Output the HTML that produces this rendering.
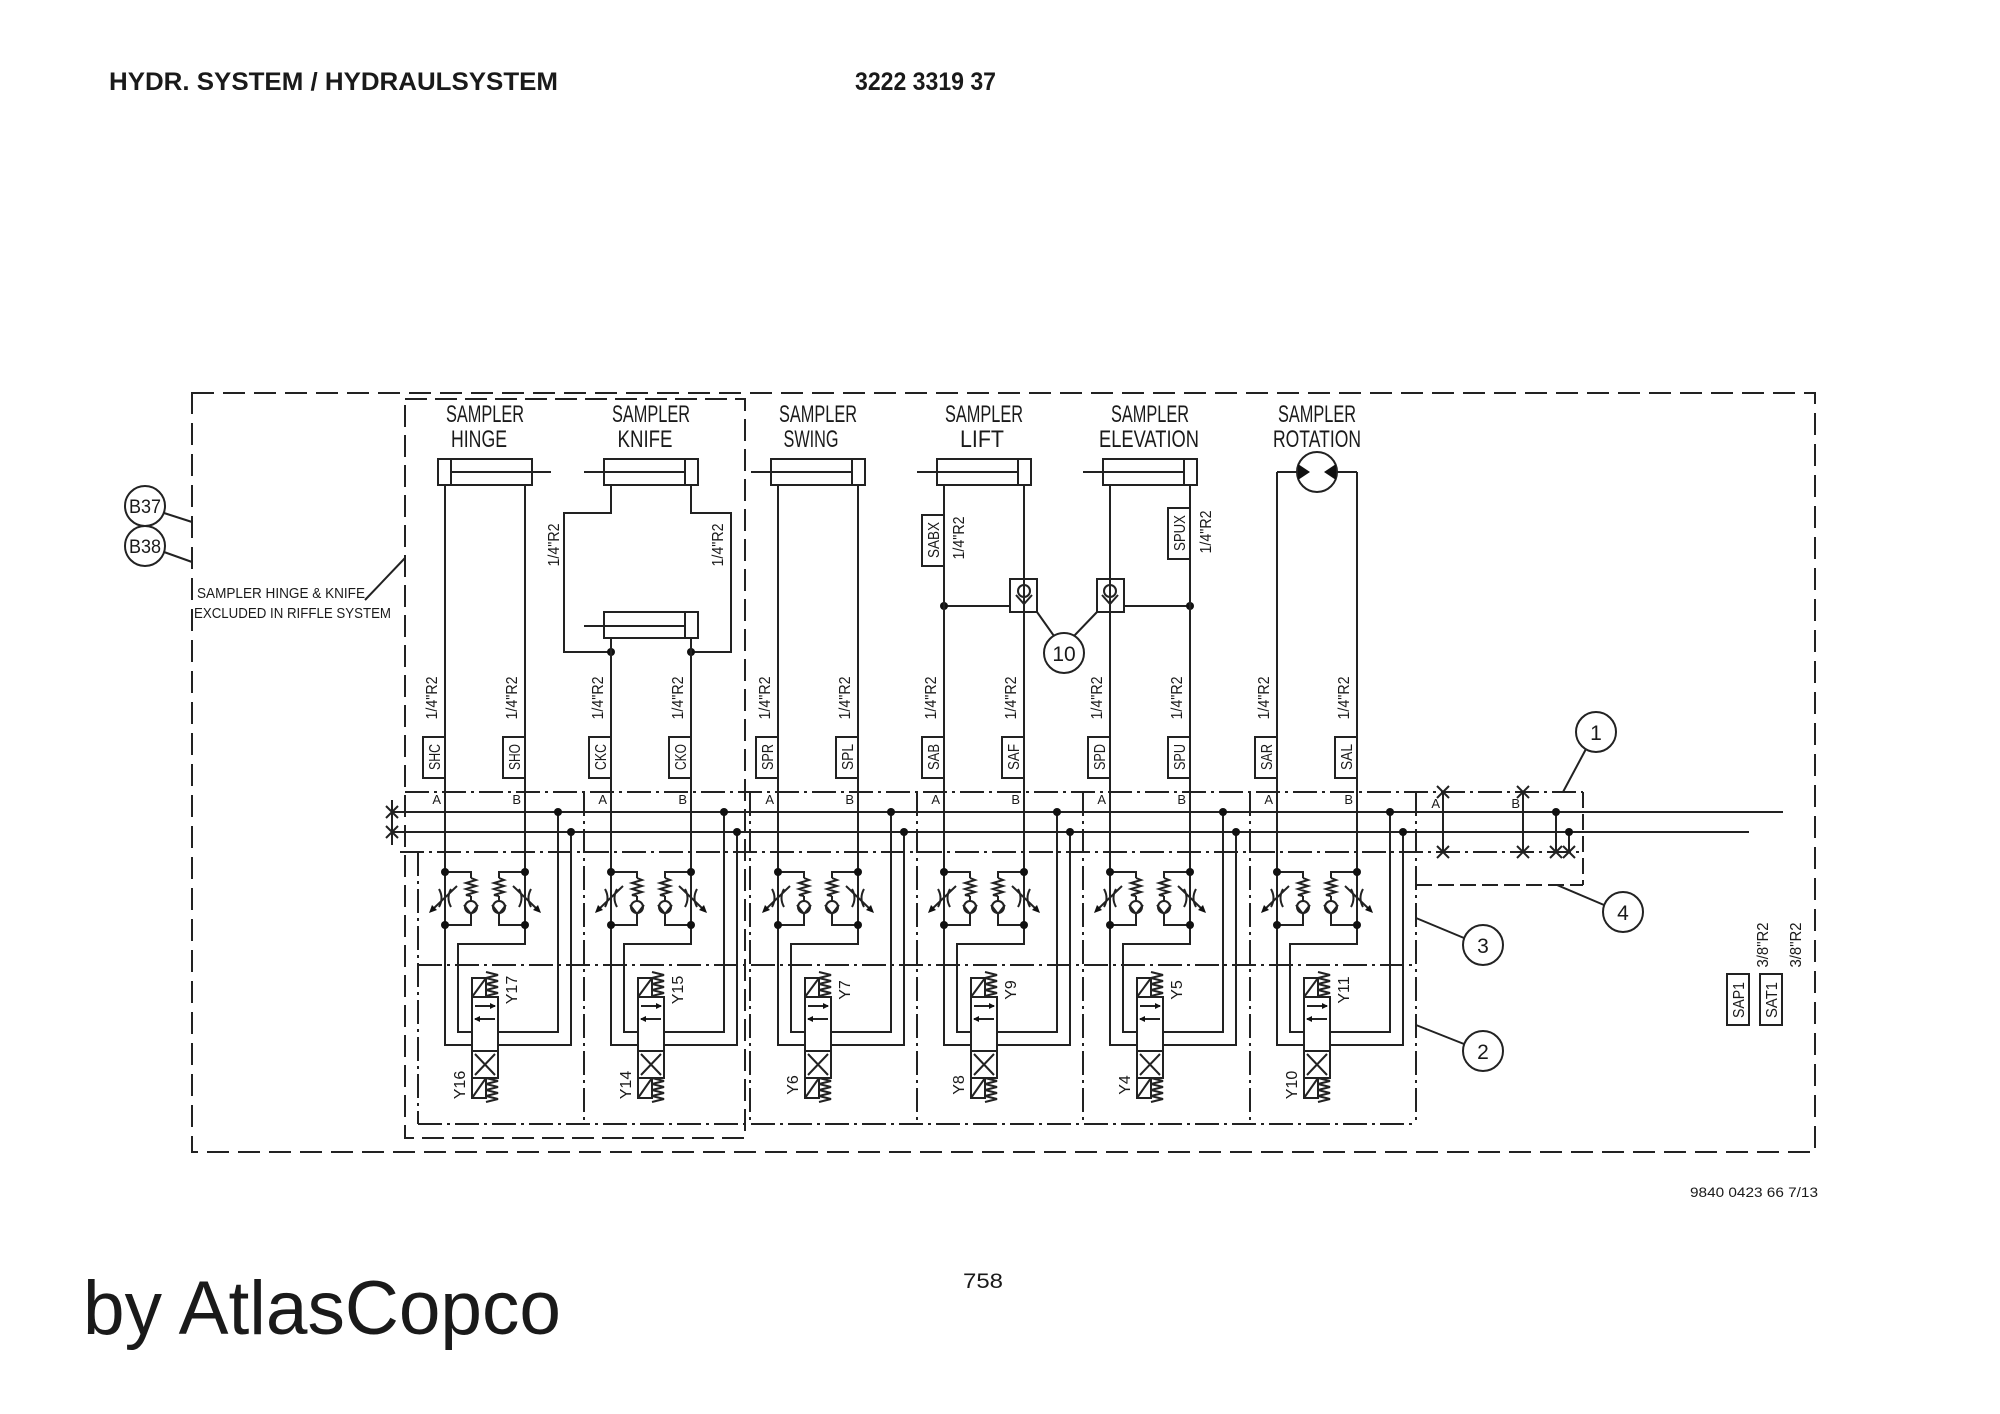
<!DOCTYPE html>
<html><head><meta charset="utf-8"><style>
html,body{margin:0;padding:0;background:#fff;}
svg{display:block;}
text{font-family:"Liberation Sans",sans-serif;fill:#1a1a1a;}
.c{font-family:"Liberation Sans Narrow","Liberation Sans",sans-serif;}
</style></head><body>
<svg width="2000" height="1414" viewBox="0 0 2000 1414" xmlns="http://www.w3.org/2000/svg">
<rect width="2000" height="1414" fill="#fff"/>
<text x="109" y="90" font-size="25" font-weight="bold" textLength="449" lengthAdjust="spacingAndGlyphs">HYDR. SYSTEM / HYDRAULSYSTEM</text>
<text x="855" y="90" font-size="25" font-weight="bold" textLength="141" lengthAdjust="spacingAndGlyphs">3222 3319 37</text>
<text x="1690" y="1197" font-size="14" textLength="128" lengthAdjust="spacingAndGlyphs">9840 0423 66 7/13</text>
<text x="963" y="1288" font-size="21" textLength="40" lengthAdjust="spacingAndGlyphs">758</text>
<text x="83" y="1334" font-size="76" textLength="478" lengthAdjust="spacingAndGlyphs">by AtlasCopco</text>

<g fill="none" stroke="#222" stroke-width="2">
<rect x="192" y="393" width="1623" height="759" stroke-dasharray="22,9"/>
<rect x="405" y="399" width="340" height="739" stroke-dasharray="22,8"/>
<path stroke-dasharray="24,5,3,5" d="M418,852V1124 M584,792V1124 M750,792V1124 M917,792V1124 M1083,792V1124 M1250,792V1124 M1416,792V1125"/>
<path stroke-dasharray="24,5,3,5" d="M400,852H1583 M418,965H1416 M418,1124H1416 M405,792H1583"/>
<path d="M1583,792V885 M1416,885H1583" stroke-dasharray="16,6"/>
<path d="M392,812H1783 M392,832H1749 M392,800V845"/>
<path d="M386,806l12,12M398,806l-12,12 M386,826l12,12M398,826l-12,12"/>
<path d="M1443,792V852 M1523,792V852 M1556,812V852 M1569,832V852"/>
<path d="M1437,786l12,12M1449,786l-12,12 M1437,846l12,12M1449,846l-12,12 M1517,786l12,12M1529,786l-12,12 M1517,846l12,12M1529,846l-12,12 M1550,846l12,12M1562,846l-12,12 M1563,846l12,12M1575,846l-12,12"/>
<circle cx="1596" cy="732" r="20"/><path d="M1586,749L1563,792"/>
<circle cx="1623" cy="912" r="20"/><path d="M1604,905L1557,885"/>
<circle cx="1483" cy="945" r="20"/><path d="M1464,938L1416,918"/>
<circle cx="1483" cy="1051" r="20"/><path d="M1464,1044L1416,1025"/>
<circle cx="145" cy="506" r="20"/><path d="M164,513L192,522"/>
<circle cx="145" cy="546" r="20"/><path d="M164,552L192,562"/>
<path d="M365,600L405,558"/>
<rect x="1727" y="974" width="22" height="51"/>
<rect x="1760" y="974" width="22" height="51"/>

<rect x="438" y="459" width="94" height="26"/><path d="M451,459V485 M451,472H551"/>
<rect x="604" y="459" width="94" height="26"/><path d="M685,459V485 M584,472H685"/>
<path d="M611,485V513H564V652H611 M691,485V513H731V652H691"/>
<rect x="604" y="612" width="94" height="26"/><path d="M685,612V638 M584,626H685"/>
<rect x="771" y="459" width="94" height="26"/><path d="M852,459V485 M751,472H852"/>
<rect x="937" y="459" width="94" height="26"/><path d="M1018,459V485 M917,472H1018"/>
<rect x="1103" y="459" width="94" height="26"/><path d="M1184,459V485 M1083,472H1184"/>
<circle cx="1317" cy="472" r="20"/><path d="M1277,472H1297 M1337,472H1357"/>
<path d="M944,606H1010 M1124,606H1190"/>
<rect x="1010" y="579" width="27" height="33"/><rect x="1097" y="579" width="27" height="33"/>
<circle cx="1024" cy="591" r="6"/><path d="M1016,595L1024,604L1032,595"/>
<circle cx="1110" cy="591" r="6"/><path d="M1102,595L1110,604L1118,595"/>
<circle cx="1064" cy="653" r="20"/><path d="M1037,612L1054,636 M1097,612L1074,636"/>
<rect x="922" y="515" width="22" height="51"/>
<rect x="1168" y="508" width="22" height="51"/>
</g>
<g fill="#111">
<path d="M1298,464L1310,472L1298,480Z M1336,464L1324,472L1336,480Z"/>
<circle cx="611" cy="652" r="4"/><circle cx="691" cy="652" r="4"/>
<circle cx="944" cy="606" r="4"/><circle cx="1190" cy="606" r="4"/>
<circle cx="1556" cy="812" r="4"/><circle cx="1569" cy="832" r="4"/>
</g>

<g class="c" font-size="24" text-anchor="middle">
<text x="485" y="422" textLength="78" lengthAdjust="spacingAndGlyphs">SAMPLER</text>
<text x="479" y="447" textLength="56" lengthAdjust="spacingAndGlyphs">HINGE</text>
<text x="651" y="422" textLength="78" lengthAdjust="spacingAndGlyphs">SAMPLER</text>
<text x="645" y="447" textLength="55" lengthAdjust="spacingAndGlyphs">KNIFE</text>
<text x="818" y="422" textLength="78" lengthAdjust="spacingAndGlyphs">SAMPLER</text>
<text x="811" y="447" textLength="55" lengthAdjust="spacingAndGlyphs">SWING</text>
<text x="984" y="422" textLength="78" lengthAdjust="spacingAndGlyphs">SAMPLER</text>
<text x="982" y="447" textLength="44" lengthAdjust="spacingAndGlyphs">LIFT</text>
<text x="1150" y="422" textLength="78" lengthAdjust="spacingAndGlyphs">SAMPLER</text>
<text x="1149" y="447" textLength="100" lengthAdjust="spacingAndGlyphs">ELEVATION</text>
<text x="1317" y="422" textLength="78" lengthAdjust="spacingAndGlyphs">SAMPLER</text>
<text x="1317" y="447" textLength="88" lengthAdjust="spacingAndGlyphs">ROTATION</text>
</g>
<g class="c" font-size="15">
<text x="197" y="598" textLength="168" lengthAdjust="spacingAndGlyphs">SAMPLER HINGE &amp; KNIFE</text>
<text x="194" y="618" textLength="197" lengthAdjust="spacingAndGlyphs">EXCLUDED IN RIFFLE SYSTEM</text>
<text x="145" y="513" font-size="19" text-anchor="middle" textLength="32" lengthAdjust="spacingAndGlyphs">B37</text>
<text x="145" y="553" font-size="19" text-anchor="middle" textLength="32" lengthAdjust="spacingAndGlyphs">B38</text>
<text x="1596" y="740" font-size="21" text-anchor="middle">1</text>
<text x="1623" y="920" font-size="21" text-anchor="middle">4</text>
<text x="1483" y="953" font-size="21" text-anchor="middle">3</text>
<text x="1483" y="1059" font-size="21" text-anchor="middle">2</text>
<text x="1064" y="661" font-size="21" text-anchor="middle">10</text>
<text x="1440" y="808" font-size="13" text-anchor="end">A</text>
<text x="1520" y="808" font-size="13" text-anchor="end">B</text>
</g>
<g class="c" font-size="16" text-anchor="middle">
<text transform="translate(559,545) rotate(-90)" textLength="43" lengthAdjust="spacingAndGlyphs">1/4"R2</text>
<text transform="translate(723,545) rotate(-90)" textLength="43" lengthAdjust="spacingAndGlyphs">1/4"R2</text>
<text transform="translate(964,538) rotate(-90)" textLength="43" lengthAdjust="spacingAndGlyphs">1/4"R2</text>
<text transform="translate(1211,532) rotate(-90)" textLength="43" lengthAdjust="spacingAndGlyphs">1/4"R2</text>
<text transform="translate(939,540) rotate(-90)" textLength="36" lengthAdjust="spacingAndGlyphs">SABX</text>
<text transform="translate(1185,533) rotate(-90)" textLength="36" lengthAdjust="spacingAndGlyphs">SPUX</text>
<text transform="translate(1744,1000) rotate(-90)" textLength="36" lengthAdjust="spacingAndGlyphs">SAP1</text>
<text transform="translate(1777,1000) rotate(-90)" textLength="36" lengthAdjust="spacingAndGlyphs">SAT1</text>
<text transform="translate(1768,945) rotate(-90)" textLength="45" lengthAdjust="spacingAndGlyphs">3/8"R2</text>
<text transform="translate(1801,945) rotate(-90)" textLength="45" lengthAdjust="spacingAndGlyphs">3/8"R2</text>
</g>

<g transform="translate(445,0)">
<g fill="none" stroke="#222" stroke-width="2">
<path d="M0,485V1045H27 M80,485V944H13V1032H27 M53,1032H113V812 M53,1045H126V832"/>
<path d="M0,872H26V878 M26,896V901 M26,913V925H0 M80,872H54V878 M54,896V901 M54,913V925H80"/>
<path d="M26,878l5,2-10,3 10,3-10,3 10,3-10,3 5,1 M54,878l5,2-10,3 10,3-10,3 10,3-10,3 5,1"/>
<circle cx="26" cy="907" r="6"/><circle cx="54" cy="907" r="6"/>
<path d="M19,905L26,914L33,905 M47,905L54,914L61,905"/>
<path d="M-6,889q5,9 0,18 M6,889q-5,9 0,18 M74,889q5,9 0,18 M86,889q-5,9 0,18 M-13,910L12,886 M93,910L68,886"/>
<rect x="27" y="978" width="14" height="19"/><path d="M27,997L41,978"/>
<path d="M41,972l12,3-12,3 12,3-12,3 12,3-12,3 12,3-12,3"/>
<rect x="27" y="997" width="26" height="54"/><rect x="27" y="1051" width="26" height="27"/>
<rect x="27" y="1078" width="14" height="20"/><path d="M27,1098L41,1078"/>
<path d="M41,1078l12,3-12,3 12,3-12,3 12,3-12,3 12,3-12,3"/>
<path d="M30,1006H50 M50,1019H30 M30,1054L50,1075 M50,1054L30,1075"/>
<rect x="-22" y="737" width="22" height="41"/><rect x="58" y="737" width="22" height="41"/>
</g>
<g fill="#111"><circle cx="0" cy="872" r="4"/><circle cx="0" cy="925" r="4"/><circle cx="80" cy="872" r="4"/><circle cx="80" cy="925" r="4"/><circle cx="113" cy="812" r="4"/><circle cx="126" cy="832" r="4"/>
<path d="M-16,913l3,-8 5,5z M96,913l-3,-8 -5,5z M51,1006l-6,-3v6z M29,1019l6,-3v6z"/></g>
<g class="c" font-size="16" text-anchor="middle">
<text transform="translate(-8,698) rotate(-90)" textLength="43" lengthAdjust="spacingAndGlyphs">1/4"R2</text>
<text transform="translate(72,698) rotate(-90)" textLength="43" lengthAdjust="spacingAndGlyphs">1/4"R2</text>
<text transform="translate(-5,757) rotate(-90)" textLength="26" lengthAdjust="spacingAndGlyphs">SHC</text>
<text transform="translate(75,757) rotate(-90)" textLength="26" lengthAdjust="spacingAndGlyphs">SHO</text>
<text transform="translate(72,990) rotate(-90)">Y17</text>
<text transform="translate(20,1085) rotate(-90)">Y16</text>
<text x="-4" y="804" font-size="13" text-anchor="end">A</text><text x="76" y="804" font-size="13" text-anchor="end">B</text>
</g></g>

<g transform="translate(611,0)">
<g fill="none" stroke="#222" stroke-width="2">
<path d="M0,638V1045H27 M80,638V944H13V1032H27 M53,1032H113V812 M53,1045H126V832"/>
<path d="M0,872H26V878 M26,896V901 M26,913V925H0 M80,872H54V878 M54,896V901 M54,913V925H80"/>
<path d="M26,878l5,2-10,3 10,3-10,3 10,3-10,3 5,1 M54,878l5,2-10,3 10,3-10,3 10,3-10,3 5,1"/>
<circle cx="26" cy="907" r="6"/><circle cx="54" cy="907" r="6"/>
<path d="M19,905L26,914L33,905 M47,905L54,914L61,905"/>
<path d="M-6,889q5,9 0,18 M6,889q-5,9 0,18 M74,889q5,9 0,18 M86,889q-5,9 0,18 M-13,910L12,886 M93,910L68,886"/>
<rect x="27" y="978" width="14" height="19"/><path d="M27,997L41,978"/>
<path d="M41,972l12,3-12,3 12,3-12,3 12,3-12,3 12,3-12,3"/>
<rect x="27" y="997" width="26" height="54"/><rect x="27" y="1051" width="26" height="27"/>
<rect x="27" y="1078" width="14" height="20"/><path d="M27,1098L41,1078"/>
<path d="M41,1078l12,3-12,3 12,3-12,3 12,3-12,3 12,3-12,3"/>
<path d="M30,1006H50 M50,1019H30 M30,1054L50,1075 M50,1054L30,1075"/>
<rect x="-22" y="737" width="22" height="41"/><rect x="58" y="737" width="22" height="41"/>
</g>
<g fill="#111"><circle cx="0" cy="872" r="4"/><circle cx="0" cy="925" r="4"/><circle cx="80" cy="872" r="4"/><circle cx="80" cy="925" r="4"/><circle cx="113" cy="812" r="4"/><circle cx="126" cy="832" r="4"/>
<path d="M-16,913l3,-8 5,5z M96,913l-3,-8 -5,5z M51,1006l-6,-3v6z M29,1019l6,-3v6z"/></g>
<g class="c" font-size="16" text-anchor="middle">
<text transform="translate(-8,698) rotate(-90)" textLength="43" lengthAdjust="spacingAndGlyphs">1/4"R2</text>
<text transform="translate(72,698) rotate(-90)" textLength="43" lengthAdjust="spacingAndGlyphs">1/4"R2</text>
<text transform="translate(-5,757) rotate(-90)" textLength="26" lengthAdjust="spacingAndGlyphs">CKC</text>
<text transform="translate(75,757) rotate(-90)" textLength="26" lengthAdjust="spacingAndGlyphs">CKO</text>
<text transform="translate(72,990) rotate(-90)">Y15</text>
<text transform="translate(20,1085) rotate(-90)">Y14</text>
<text x="-4" y="804" font-size="13" text-anchor="end">A</text><text x="76" y="804" font-size="13" text-anchor="end">B</text>
</g></g>

<g transform="translate(778,0)">
<g fill="none" stroke="#222" stroke-width="2">
<path d="M0,485V1045H27 M80,485V944H13V1032H27 M53,1032H113V812 M53,1045H126V832"/>
<path d="M0,872H26V878 M26,896V901 M26,913V925H0 M80,872H54V878 M54,896V901 M54,913V925H80"/>
<path d="M26,878l5,2-10,3 10,3-10,3 10,3-10,3 5,1 M54,878l5,2-10,3 10,3-10,3 10,3-10,3 5,1"/>
<circle cx="26" cy="907" r="6"/><circle cx="54" cy="907" r="6"/>
<path d="M19,905L26,914L33,905 M47,905L54,914L61,905"/>
<path d="M-6,889q5,9 0,18 M6,889q-5,9 0,18 M74,889q5,9 0,18 M86,889q-5,9 0,18 M-13,910L12,886 M93,910L68,886"/>
<rect x="27" y="978" width="14" height="19"/><path d="M27,997L41,978"/>
<path d="M41,972l12,3-12,3 12,3-12,3 12,3-12,3 12,3-12,3"/>
<rect x="27" y="997" width="26" height="54"/><rect x="27" y="1051" width="26" height="27"/>
<rect x="27" y="1078" width="14" height="20"/><path d="M27,1098L41,1078"/>
<path d="M41,1078l12,3-12,3 12,3-12,3 12,3-12,3 12,3-12,3"/>
<path d="M30,1006H50 M50,1019H30 M30,1054L50,1075 M50,1054L30,1075"/>
<rect x="-22" y="737" width="22" height="41"/><rect x="58" y="737" width="22" height="41"/>
</g>
<g fill="#111"><circle cx="0" cy="872" r="4"/><circle cx="0" cy="925" r="4"/><circle cx="80" cy="872" r="4"/><circle cx="80" cy="925" r="4"/><circle cx="113" cy="812" r="4"/><circle cx="126" cy="832" r="4"/>
<path d="M-16,913l3,-8 5,5z M96,913l-3,-8 -5,5z M51,1006l-6,-3v6z M29,1019l6,-3v6z"/></g>
<g class="c" font-size="16" text-anchor="middle">
<text transform="translate(-8,698) rotate(-90)" textLength="43" lengthAdjust="spacingAndGlyphs">1/4"R2</text>
<text transform="translate(72,698) rotate(-90)" textLength="43" lengthAdjust="spacingAndGlyphs">1/4"R2</text>
<text transform="translate(-5,757) rotate(-90)" textLength="26" lengthAdjust="spacingAndGlyphs">SPR</text>
<text transform="translate(75,757) rotate(-90)" textLength="26" lengthAdjust="spacingAndGlyphs">SPL</text>
<text transform="translate(72,990) rotate(-90)">Y7</text>
<text transform="translate(20,1085) rotate(-90)">Y6</text>
<text x="-4" y="804" font-size="13" text-anchor="end">A</text><text x="76" y="804" font-size="13" text-anchor="end">B</text>
</g></g>

<g transform="translate(944,0)">
<g fill="none" stroke="#222" stroke-width="2">
<path d="M0,485V1045H27 M80,485V944H13V1032H27 M53,1032H113V812 M53,1045H126V832"/>
<path d="M0,872H26V878 M26,896V901 M26,913V925H0 M80,872H54V878 M54,896V901 M54,913V925H80"/>
<path d="M26,878l5,2-10,3 10,3-10,3 10,3-10,3 5,1 M54,878l5,2-10,3 10,3-10,3 10,3-10,3 5,1"/>
<circle cx="26" cy="907" r="6"/><circle cx="54" cy="907" r="6"/>
<path d="M19,905L26,914L33,905 M47,905L54,914L61,905"/>
<path d="M-6,889q5,9 0,18 M6,889q-5,9 0,18 M74,889q5,9 0,18 M86,889q-5,9 0,18 M-13,910L12,886 M93,910L68,886"/>
<rect x="27" y="978" width="14" height="19"/><path d="M27,997L41,978"/>
<path d="M41,972l12,3-12,3 12,3-12,3 12,3-12,3 12,3-12,3"/>
<rect x="27" y="997" width="26" height="54"/><rect x="27" y="1051" width="26" height="27"/>
<rect x="27" y="1078" width="14" height="20"/><path d="M27,1098L41,1078"/>
<path d="M41,1078l12,3-12,3 12,3-12,3 12,3-12,3 12,3-12,3"/>
<path d="M30,1006H50 M50,1019H30 M30,1054L50,1075 M50,1054L30,1075"/>
<rect x="-22" y="737" width="22" height="41"/><rect x="58" y="737" width="22" height="41"/>
</g>
<g fill="#111"><circle cx="0" cy="872" r="4"/><circle cx="0" cy="925" r="4"/><circle cx="80" cy="872" r="4"/><circle cx="80" cy="925" r="4"/><circle cx="113" cy="812" r="4"/><circle cx="126" cy="832" r="4"/>
<path d="M-16,913l3,-8 5,5z M96,913l-3,-8 -5,5z M51,1006l-6,-3v6z M29,1019l6,-3v6z"/></g>
<g class="c" font-size="16" text-anchor="middle">
<text transform="translate(-8,698) rotate(-90)" textLength="43" lengthAdjust="spacingAndGlyphs">1/4"R2</text>
<text transform="translate(72,698) rotate(-90)" textLength="43" lengthAdjust="spacingAndGlyphs">1/4"R2</text>
<text transform="translate(-5,757) rotate(-90)" textLength="26" lengthAdjust="spacingAndGlyphs">SAB</text>
<text transform="translate(75,757) rotate(-90)" textLength="26" lengthAdjust="spacingAndGlyphs">SAF</text>
<text transform="translate(72,990) rotate(-90)">Y9</text>
<text transform="translate(20,1085) rotate(-90)">Y8</text>
<text x="-4" y="804" font-size="13" text-anchor="end">A</text><text x="76" y="804" font-size="13" text-anchor="end">B</text>
</g></g>

<g transform="translate(1110,0)">
<g fill="none" stroke="#222" stroke-width="2">
<path d="M0,485V1045H27 M80,485V944H13V1032H27 M53,1032H113V812 M53,1045H126V832"/>
<path d="M0,872H26V878 M26,896V901 M26,913V925H0 M80,872H54V878 M54,896V901 M54,913V925H80"/>
<path d="M26,878l5,2-10,3 10,3-10,3 10,3-10,3 5,1 M54,878l5,2-10,3 10,3-10,3 10,3-10,3 5,1"/>
<circle cx="26" cy="907" r="6"/><circle cx="54" cy="907" r="6"/>
<path d="M19,905L26,914L33,905 M47,905L54,914L61,905"/>
<path d="M-6,889q5,9 0,18 M6,889q-5,9 0,18 M74,889q5,9 0,18 M86,889q-5,9 0,18 M-13,910L12,886 M93,910L68,886"/>
<rect x="27" y="978" width="14" height="19"/><path d="M27,997L41,978"/>
<path d="M41,972l12,3-12,3 12,3-12,3 12,3-12,3 12,3-12,3"/>
<rect x="27" y="997" width="26" height="54"/><rect x="27" y="1051" width="26" height="27"/>
<rect x="27" y="1078" width="14" height="20"/><path d="M27,1098L41,1078"/>
<path d="M41,1078l12,3-12,3 12,3-12,3 12,3-12,3 12,3-12,3"/>
<path d="M30,1006H50 M50,1019H30 M30,1054L50,1075 M50,1054L30,1075"/>
<rect x="-22" y="737" width="22" height="41"/><rect x="58" y="737" width="22" height="41"/>
</g>
<g fill="#111"><circle cx="0" cy="872" r="4"/><circle cx="0" cy="925" r="4"/><circle cx="80" cy="872" r="4"/><circle cx="80" cy="925" r="4"/><circle cx="113" cy="812" r="4"/><circle cx="126" cy="832" r="4"/>
<path d="M-16,913l3,-8 5,5z M96,913l-3,-8 -5,5z M51,1006l-6,-3v6z M29,1019l6,-3v6z"/></g>
<g class="c" font-size="16" text-anchor="middle">
<text transform="translate(-8,698) rotate(-90)" textLength="43" lengthAdjust="spacingAndGlyphs">1/4"R2</text>
<text transform="translate(72,698) rotate(-90)" textLength="43" lengthAdjust="spacingAndGlyphs">1/4"R2</text>
<text transform="translate(-5,757) rotate(-90)" textLength="26" lengthAdjust="spacingAndGlyphs">SPD</text>
<text transform="translate(75,757) rotate(-90)" textLength="26" lengthAdjust="spacingAndGlyphs">SPU</text>
<text transform="translate(72,990) rotate(-90)">Y5</text>
<text transform="translate(20,1085) rotate(-90)">Y4</text>
<text x="-4" y="804" font-size="13" text-anchor="end">A</text><text x="76" y="804" font-size="13" text-anchor="end">B</text>
</g></g>

<g transform="translate(1277,0)">
<g fill="none" stroke="#222" stroke-width="2">
<path d="M0,472V1045H27 M80,472V944H13V1032H27 M53,1032H113V812 M53,1045H126V832"/>
<path d="M0,872H26V878 M26,896V901 M26,913V925H0 M80,872H54V878 M54,896V901 M54,913V925H80"/>
<path d="M26,878l5,2-10,3 10,3-10,3 10,3-10,3 5,1 M54,878l5,2-10,3 10,3-10,3 10,3-10,3 5,1"/>
<circle cx="26" cy="907" r="6"/><circle cx="54" cy="907" r="6"/>
<path d="M19,905L26,914L33,905 M47,905L54,914L61,905"/>
<path d="M-6,889q5,9 0,18 M6,889q-5,9 0,18 M74,889q5,9 0,18 M86,889q-5,9 0,18 M-13,910L12,886 M93,910L68,886"/>
<rect x="27" y="978" width="14" height="19"/><path d="M27,997L41,978"/>
<path d="M41,972l12,3-12,3 12,3-12,3 12,3-12,3 12,3-12,3"/>
<rect x="27" y="997" width="26" height="54"/><rect x="27" y="1051" width="26" height="27"/>
<rect x="27" y="1078" width="14" height="20"/><path d="M27,1098L41,1078"/>
<path d="M41,1078l12,3-12,3 12,3-12,3 12,3-12,3 12,3-12,3"/>
<path d="M30,1006H50 M50,1019H30 M30,1054L50,1075 M50,1054L30,1075"/>
<rect x="-22" y="737" width="22" height="41"/><rect x="58" y="737" width="22" height="41"/>
</g>
<g fill="#111"><circle cx="0" cy="872" r="4"/><circle cx="0" cy="925" r="4"/><circle cx="80" cy="872" r="4"/><circle cx="80" cy="925" r="4"/><circle cx="113" cy="812" r="4"/><circle cx="126" cy="832" r="4"/>
<path d="M-16,913l3,-8 5,5z M96,913l-3,-8 -5,5z M51,1006l-6,-3v6z M29,1019l6,-3v6z"/></g>
<g class="c" font-size="16" text-anchor="middle">
<text transform="translate(-8,698) rotate(-90)" textLength="43" lengthAdjust="spacingAndGlyphs">1/4"R2</text>
<text transform="translate(72,698) rotate(-90)" textLength="43" lengthAdjust="spacingAndGlyphs">1/4"R2</text>
<text transform="translate(-5,757) rotate(-90)" textLength="26" lengthAdjust="spacingAndGlyphs">SAR</text>
<text transform="translate(75,757) rotate(-90)" textLength="26" lengthAdjust="spacingAndGlyphs">SAL</text>
<text transform="translate(72,990) rotate(-90)">Y11</text>
<text transform="translate(20,1085) rotate(-90)">Y10</text>
<text x="-4" y="804" font-size="13" text-anchor="end">A</text><text x="76" y="804" font-size="13" text-anchor="end">B</text>
</g></g>
</svg>
</body></html>
